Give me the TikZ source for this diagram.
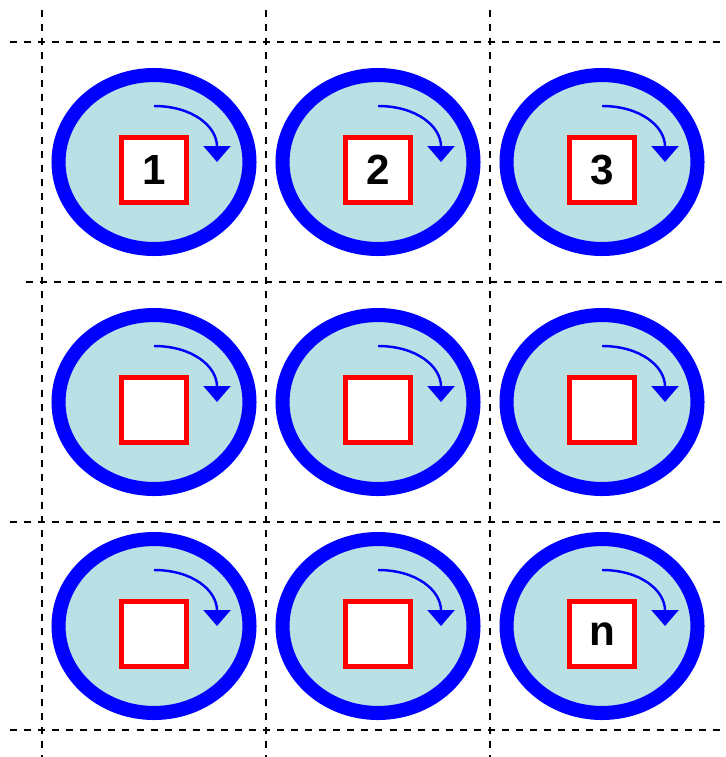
\documentclass[tikz,border=0pt]{standalone}
\usepackage{fontspec}
\setmainfont{Liberation Sans}
\usetikzlibrary{arrows.meta,calc,shapes.geometric}
\definecolor{ringblue}{RGB}{0,0,255}
\definecolor{pool}{RGB}{185,224,228}
\tikzset{
  >={Triangle[length=3.2mm,width=5.4mm]},
  cell/.style={ellipse,draw=ringblue,fill=pool,line width=8pt,minimum width=3.82cm,minimum height=3.48cm,inner sep=0pt},
  slot/.style={rectangle,draw=red,fill=white,line width=2.8pt,minimum size=1.3cm,inner sep=0pt,font=\fontsize{24}{28}\selectfont\bfseries},
  turn/.style={->,draw=ringblue,line width=1.4pt},
  gridline/.style={dash pattern=on 4pt off 4pt,line width=1.1pt},
}
\begin{document}
\begin{tikzpicture}[x=0.02cm,y=-0.02cm]
\useasboundingbox (0,0) rectangle (725,757);
% dashed cut lines
\foreach \x in {42,266,490} \draw[gridline] (\x,10) -- (\x,757);
\draw[gridline] (10,42) -- (725,42); \draw[gridline] (26,282) -- (725,282);
\draw[gridline] (10,522) -- (725,522); \draw[gridline] (10,730) -- (725,730);
% cells
\foreach \x/\y/\t [count=\i] in {154/162/1,378/162/2,602/162/3,154/402/{},378/402/{},602/402/{},154/626/{},378/626/{},602/626/n}{
  \node[cell] (e\i) at (\x,\y) {};
  \node[slot] (s\i) at ($(e\i)+(0,8)$) {\t};
  \draw[turn] ($(e\i)+(0,-56)$) .. controls ($(e\i)+(38,-56)$) and ($(e\i)+(63,-36)$) .. ($(e\i)+(63,0)$);
}
\end{tikzpicture}
\end{document}
